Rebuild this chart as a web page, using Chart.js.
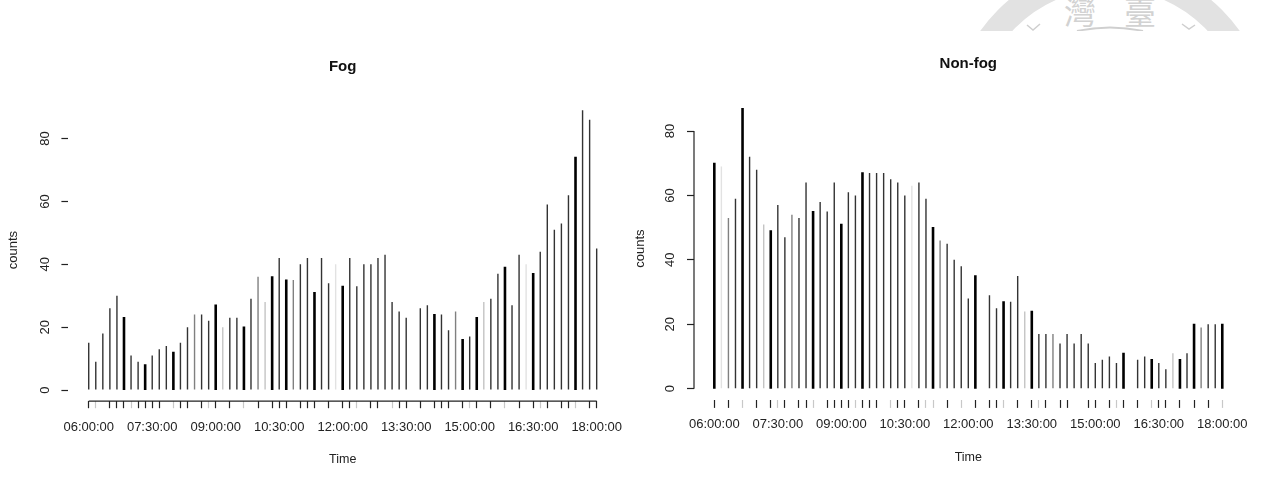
<!DOCTYPE html>
<html>
<head>
<meta charset="utf-8">
<title>Fog and non-fog counts</title>
<script src="https://cdn.jsdelivr.net/npm/chart.js@4"></script>
<style>
    html, body { margin: 0; padding: 0; background: #fff; }
    body { position: relative; width: 1267px; height: 477px; overflow: hidden; }
    .panel { position: absolute; top: 0; height: 477px; }
    #fogPanel { left: 0; width: 660px; }
    #nonFogPanel { left: 630px; width: 637px; }
    #seal { position: absolute; left: 0; top: 0; }
</style>
</head>
<body>
<!-- seal printed across the top corner of the page -->
<svg id="seal" width="1267" height="31">
    <circle cx="1110" cy="122" r="146" fill="none" stroke="#e2e2e2" stroke-width="25"/>
    <text x="1080" y="24" text-anchor="middle" font-family="Noto Sans CJK TC" font-size="32" fill="#d2d2d2">灣</text>
    <text x="1140" y="24" text-anchor="middle" font-family="Noto Sans CJK TC" font-size="32" fill="#d2d2d2">臺</text>
    <path d="M1077 31 Q1110 24 1143 31" fill="none" stroke="#cfcfcf" stroke-width="2"/>
    <path d="M1027 25 L1033 30 L1040 24" fill="none" stroke="#cfcfcf" stroke-width="1.5"/>
    <path d="M1182 24 L1189 29 L1195 25" fill="none" stroke="#cfcfcf" stroke-width="1.5"/>
</svg>
<div class="panel" id="fogPanel"><canvas id="fogChart" width="660" height="477"></canvas></div>
<div class="panel" id="nonFogPanel"><canvas id="nonFogChart" width="637" height="477"></canvas></div>
<script>
    // 10 minute steps from 06:00 to 18:00
    const times = [];
    for (let m = 360; m <= 1080; m += 10) {
        const hh = String(Math.floor(m / 60)).padStart(2, '0');
        const mm = String(m % 60).padStart(2, '0');
        times.push(hh + ':' + mm + ':00');
    }

    const yTicks = [0, 20, 40, 60, 80];

    const fogCounts = [15, 9, 18, 26, 30, 23, 11, 9, 8, 11, 13, 14, 12, 15, 20, 24, 24, 22, 27, 20,
        23, 23, 20, 29, 36, 28, 36, 42, 35, 35, 40, 42, 31, 42, 34, 40, 33, 42, 33, 40,
        40, 42, 43, 28, 25, 23, 0, 26, 27, 24, 24, 19, 25, 16, 17, 23, 28, 29, 37, 39,
        27, 43, 40, 37, 44, 59, 51, 53, 62, 74, 89, 86, 45];

    const nonFogCounts = [70, 69, 53, 59, 87, 72, 68, 51, 49, 57, 47, 54, 53, 64, 55, 58, 55, 64, 51, 61,
        60, 67, 67, 67, 67, 65, 64, 60, 63, 64, 59, 50, 46, 45, 40, 38, 28, 35, 0, 29,
        25, 27, 27, 35, 24, 24, 17, 17, 17, 14, 17, 14, 17, 14, 8, 9, 10, 8, 11, 0,
        9, 10, 9, 8, 6, 11, 9, 11, 20, 19, 20, 20, 20];

    // how each bar lands on the pixel grid: heavy ones are wider, the others paler
    const fogHeavy = [5, 8, 12, 18, 22, 26, 28, 32, 36, 49, 53, 55, 59, 63, 69];
    const fogMedium = [15, 24, 29, 52];
    const fogLight = [19, 25, 56];
    const fogFaint = [35, 62];
    const nonFogHeavy = [0, 4, 8, 14, 18, 21, 31, 37, 41, 45, 58, 62, 66, 68, 72];
    const nonFogMedium = [2, 11, 32, 48, 69];
    const nonFogLight = [7, 44, 65];
    const nonFogFaint = [1, 28];

    // x axis marks that stay visible, and the ones of those that come out pale
    const fogTicksOn = [0, 1, 3, 4, 5, 6, 7, 8, 9, 10, 12, 13, 14, 16, 17, 18, 20, 22, 24, 26, 27, 28,
        30, 31, 32, 34, 36, 37, 38, 40, 41, 43, 44, 45, 47, 49, 50, 51, 53, 54, 55, 57, 59, 61, 63,
        64, 65, 67, 68, 69, 71, 72];
    const fogTicksPale = [1, 6, 12, 17, 22, 38, 43, 54, 59, 64, 69];
    const nonFogTicksOn = [0, 2, 4, 6, 8, 9, 10, 12, 13, 14, 16, 17, 18, 19, 20, 21, 22, 23, 25, 26, 27,
        29, 30, 31, 33, 35, 37, 39, 40, 41, 43, 45, 46, 47, 49, 50, 53, 54, 56, 57, 58, 60, 62, 63,
        64, 66, 68, 70, 72];
    const nonFogTicksPale = [4, 9, 14, 20, 25, 30, 31, 35, 41, 46, 57, 62, 72];

    function barColor(i, cfg) {
        if (cfg.faint.includes(i)) return '#e2e2e2';
        if (cfg.light.includes(i)) return '#c4c4c4';
        if (cfg.medium.includes(i)) return '#808080';
        if (cfg.heavy.includes(i)) return '#000';
        return '#333';
    }

    // R style axis lines that only run between the outer ticks
    const axisLines = {
        id: 'axisLines',
        afterDraw(chart, args, opts) {
            const ctx = chart.ctx;
            const x = chart.scales.x, y = chart.scales.y;
            ctx.save();
            ctx.strokeStyle = '#222';
            ctx.lineWidth = 1.2;
            ctx.beginPath();
            if (opts.showX) {
                ctx.moveTo(x.getPixelForValue(0), y.bottom);
                ctx.lineTo(x.getPixelForValue(times.length - 1), y.bottom);
            }
            if (opts.showY) {
                ctx.moveTo(x.left, y.getPixelForValue(0));
                ctx.lineTo(x.left, y.getPixelForValue(80));
            }
            ctx.stroke();
            ctx.restore();
        }
    };

    function tickColor(i, cfg) {
        if (!cfg.ticksOn.includes(i)) return 'rgba(0,0,0,0)';
        return cfg.ticksPale.includes(i) ? '#c8c8c8' : '#222';
    }

    function makeChart(id, cfg) {
        const points = cfg.counts.map((v, i) => ({ x: i, y: v }));
        return new Chart(document.getElementById(id), {
            type: 'bar',
            plugins: [axisLines],
            data: {
                datasets: [{
                    data: points,
                    barThickness: 1.4,
                    borderWidth: 0,
                    backgroundColor: c => barColor(c.dataIndex, cfg),
                    inflateAmount: c => cfg.heavy.includes(c.dataIndex) ? 0.6 : 0
                }]
            },
            options: {
                responsive: false,
                animation: false,
                layout: { padding: { left: 0, right: cfg.rightPad, top: 0, bottom: 0 } },
                plugins: {
                    legend: { display: false },
                    tooltip: { enabled: false },
                    axisLines: { showX: cfg.showX, showY: cfg.showY },
                    title: {
                        display: true,
                        fullSize: false,
                        text: cfg.title,
                        color: '#111',
                        font: { family: 'Liberation Sans', size: 15, weight: 'bold' },
                        padding: cfg.titlePad
                    }
                },
                scales: {
                    x: {
                        type: 'linear',
                        min: -2.88,
                        max: 74.88,
                        offset: false,
                        border: { display: false },
                        afterBuildTicks: s => { s.ticks = times.map((t, i) => ({ value: i })); },
                        afterFit: s => { s.height = 477 - cfg.bottom; },
                        grid: {
                            offset: false,
                            drawOnChartArea: false,
                            tickLength: cfg.tickLen,
                            tickWidth: 1.2,
                            tickColor: c => tickColor(c.index, cfg)
                        },
                        ticks: {
                            autoSkip: false,
                            maxRotation: 0,
                            padding: cfg.xLabelPad,
                            color: '#222',
                            font: { family: 'Liberation Sans', size: 13 },
                            callback: v => v % 9 === 0 ? times[v] : ''
                        },
                        title: {
                            display: true,
                            text: 'Time',
                            color: '#222',
                            font: { family: 'Liberation Sans', size: 12.5 },
                            padding: { top: 0, bottom: cfg.xTitleLift }
                        }
                    },
                    y: {
                        min: cfg.yMin,
                        max: cfg.yMax,
                        border: { display: false },
                        afterBuildTicks: s => { s.ticks = yTicks.map(v => ({ value: v })); },
                        afterFit: s => { s.width = cfg.axisX; },
                        grid: {
                            drawOnChartArea: false,
                            tickLength: 7,
                            tickWidth: 1.2,
                            tickColor: '#222'
                        },
                        ticks: {
                            autoSkip: false,
                            minRotation: 90,
                            maxRotation: 90,
                            crossAlign: 'center',
                            padding: 9,
                            color: '#222',
                            font: { family: 'Liberation Sans', size: 13 }
                        },
                        title: {
                            display: true,
                            text: 'counts',
                            color: '#222',
                            font: { family: 'Liberation Sans', size: 13 },
                            padding: { top: cfg.yTitlePad, bottom: 0 }
                        }
                    }
                }
            }
        });
    }

    makeChart('fogChart', {
        title: 'Fog',
        counts: fogCounts,
        heavy: fogHeavy,
        medium: fogMedium,
        light: fogLight,
        faint: fogFaint,
        ticksOn: fogTicksOn,
        ticksPale: fogTicksPale,
        showX: true,
        showY: false,
        yMin: -3.56,
        yMax: 92.56,
        axisX: 68.4,
        rightPad: 43,
        bottom: 401.2,
        tickLen: 7,
        xLabelPad: 11,
        xTitleLift: 10,
        yTitlePad: 6,
        titlePad: { top: 57.5, bottom: 23.6 }
    });

    makeChart('nonFogChart', {
        title: 'Non-fog',
        counts: nonFogCounts,
        heavy: nonFogHeavy,
        medium: nonFogMedium,
        light: nonFogLight,
        faint: nonFogFaint,
        ticksOn: nonFogTicksOn,
        ticksPale: nonFogTicksPale,
        showX: false,
        showY: true,
        yMin: -3.48,
        yMax: 90.48,
        axisX: 64,
        rightPad: 24.4,
        bottom: 399.9,
        tickLen: 8,
        xLabelPad: 9,
        xTitleLift: 12,
        yTitlePad: 3,
        titlePad: { top: 54.5, bottom: 24.8 }
    });
</script>
</body>
</html>
